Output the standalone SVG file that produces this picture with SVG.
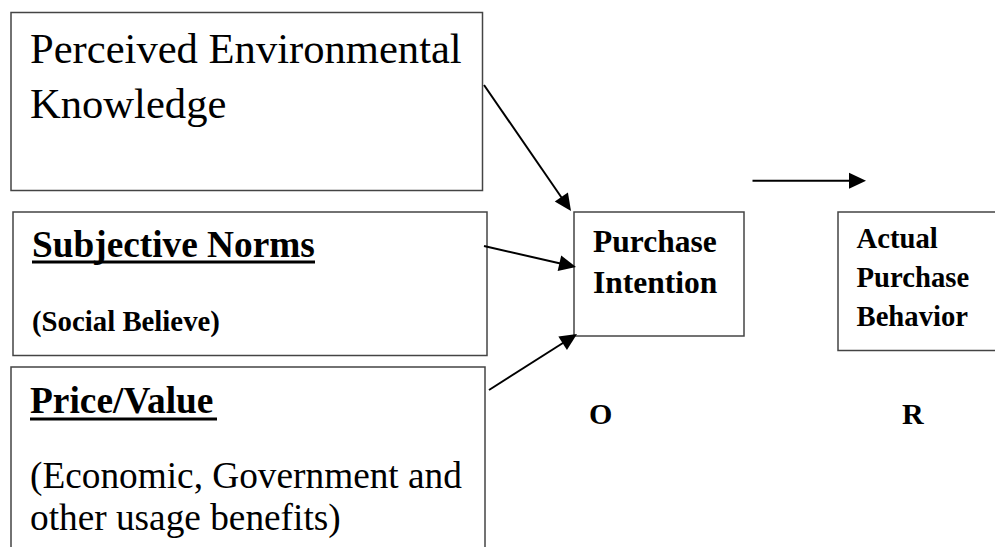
<svg xmlns="http://www.w3.org/2000/svg" width="995" height="547" viewBox="0 0 995 547">
<style>
.box{fill:#fff;stroke:#444;stroke-width:1.5}
.t{font-family:"Liberation Serif","Times New Roman",serif;fill:#000}
.b{font-weight:bold}
.ln{stroke:#000;stroke-width:2;fill:none}
.ul{stroke:#000;stroke-width:3}
</style>
<defs>
<path id="head" d="M0,0 L-17,-8 L-17,8 Z" fill="#000"/>
</defs>
<rect width="995" height="547" fill="#fff"/>
<g id="knowledge">
<rect class="box" x="11" y="12.5" width="471.5" height="178"/>
<text class="t" x="30" y="63" font-size="42.6">Perceived Environmental</text>
<text class="t" x="30" y="118" font-size="42.6">Knowledge</text>
</g>
<g id="norms">
<rect class="box" x="13" y="212" width="474" height="143.5"/>
<text class="t b" x="32" y="256.5" font-size="37.3">Subjective Norms</text>
<line class="ul" x1="32" y1="262" x2="315" y2="262"/>
<text class="t b" x="32" y="331" font-size="28.8">(Social Believe)</text>
</g>
<g id="price">
<rect class="box" x="11" y="367" width="474" height="200"/>
<text class="t b" x="30" y="413" font-size="37.4">Price/Value</text>
<line class="ul" x1="30" y1="419" x2="217" y2="419"/>
<text class="t" x="30" y="488" font-size="37.3">(Economic, Government and</text>
<text class="t" x="30" y="530" font-size="37.3">other usage benefits)</text>
</g>
<g id="intention">
<rect class="box" x="574" y="212" width="170" height="124"/>
<text class="t b" x="593" y="251.5" font-size="31.5">Purchase</text>
<text class="t b" x="593" y="293" font-size="31.5">Intention</text>
</g>
<g id="behavior">
<rect class="box" x="838" y="212" width="170" height="138.5"/>
<text class="t b" x="856.5" y="248" font-size="28.7">Actual</text>
<text class="t b" x="856.5" y="287" font-size="28.7">Purchase</text>
<text class="t b" x="856.5" y="326" font-size="28.7">Behavior</text>
</g>
<g id="label-o"><text class="t b" x="589" y="424" font-size="30">O</text></g>
<g id="label-r"><text class="t b" x="902" y="424" font-size="30">R</text></g>
<g id="connectors">
<line class="ln" x1="484" y1="85" x2="566" y2="204"/>
<use href="#head" transform="translate(571,211) rotate(55.4)"/>
<line class="ln" x1="484" y1="246" x2="567" y2="265"/>
<use href="#head" transform="translate(576,267) rotate(12.86)"/>
<line class="ln" x1="489" y1="390" x2="570" y2="338.5"/>
<use href="#head" transform="translate(577,334) rotate(-32.47)"/>
<line class="ln" x1="752.5" y1="180.7" x2="856" y2="180.7"/>
<use href="#head" transform="translate(866,180.7)"/>
</g>
</svg>
